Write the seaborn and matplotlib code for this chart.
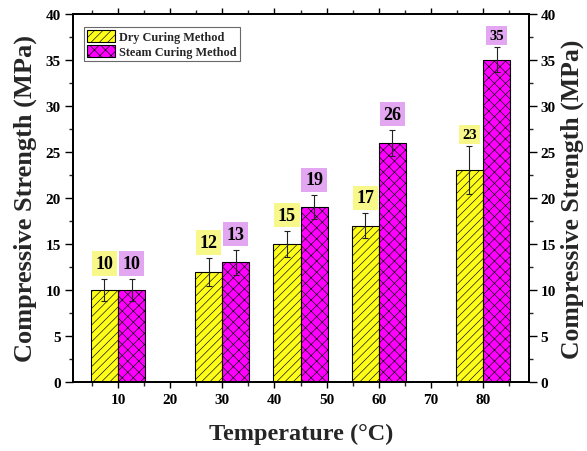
import numpy as np
import pandas as pd
import matplotlib
matplotlib.use('Agg')
import matplotlib.pyplot as plt
import matplotlib.patches as mpatches
from matplotlib.ticker import MultipleLocator
import seaborn as sns

# ---------------- data ----------------
temperatures = [10, 30, 45, 60, 80]
methods = ['Dry Curing Method', 'Steam Curing Method']
dry_strength = [10, 12, 15, 17, 23]
steam_strength = [10, 13, 19, 26, 35]
dry_error = [1.2, 1.5, 1.45, 1.35, 2.6]
steam_error = [1.2, 1.4, 1.3, 1.4, 1.35]
x_ticks = [10, 20, 30, 40, 50, 60, 70, 80]
y_ticks = [0, 5, 10, 15, 20, 25, 30, 35, 40]

# ---------------- style ----------------
sns.set_style('ticks')
plt.rcParams['font.family'] = ['Liberation Serif', 'DejaVu Serif']
plt.rcParams['font.weight'] = 'bold'
plt.rcParams['hatch.linewidth'] = 0.45

dry_color = '#FFFF1A'
steam_color = '#FF00FF'
dry_box = '#F8F88A'
steam_box = '#E3A6F0'

df = pd.DataFrame({
    'Temperature': temperatures * 2,
    'Method': [methods[0]] * len(temperatures) + [methods[1]] * len(temperatures),
    'Strength': dry_strength + steam_strength,
})

fig, ax = plt.subplots(figsize=(5.87, 4.52), dpi=100)
fig.subplots_adjust(left=0.1238, right=0.901, bottom=0.152, top=0.9675)

sns.barplot(data=df, x='Temperature', y='Strength', hue='Method',
            hue_order=methods, palette=[dry_color, steam_color], saturation=1,
            native_scale=True, width=0.6933, errorbar=None,
            edgecolor='black', linewidth=0.8, legend=False, ax=ax)

hatches = ['////', 'xxx']
errors = [dry_error, steam_error]
values = [dry_strength, steam_strength]
box_colors = [dry_box, steam_box]
label_sizes = [13, 13, 13, 13, 10.5]

for cont, hatch, errs, vals, bc in zip(ax.containers, hatches, errors, values, box_colors):
    for bar, e, v, fs in zip(cont, errs, vals, label_sizes):
        bar.set_hatch(hatch)
        cx = bar.get_x() + bar.get_width() / 2
        h = bar.get_height()
        ax.errorbar(cx, h, yerr=e, fmt='none', ecolor='#222222',
                    elinewidth=0.8, capsize=2.5, capthick=0.8, zorder=5)
        off = 7 if fs > 12 else 5
        ax.annotate(f'{v}', xy=(cx, h + e), xytext=(0, off),
                    textcoords='offset pixels', ha='center', va='bottom',
                    fontsize=fs, fontweight='bold', color='black',
                    bbox=dict(boxstyle='square,pad=0.2', fc=bc, ec='none'),
                    zorder=6)

# ---------------- axes ----------------
ax.set_xlim(1.3, 88.8)
ax.set_ylim(0, 40)
ax.set_xticks(x_ticks)
ax.set_xticklabels([str(t) for t in x_ticks])
ax.xaxis.set_minor_locator(MultipleLocator(5))
ax.set_yticks(y_ticks)
ax.yaxis.set_minor_locator(MultipleLocator(2.5))

for sp in ax.spines.values():
    sp.set_linewidth(1.3)
    sp.set_color('black')

ax.tick_params(axis='x', which='major', direction='out', length=4, width=1,
               top=True, labelsize=11, pad=3.5, colors='black')
ax.tick_params(axis='x', which='minor', direction='out', length=3, width=1,
               top=True, bottom=True)
ax.tick_params(axis='y', which='major', direction='out', length=6, width=1,
               labelsize=11, pad=2.5, colors='black')
ax.tick_params(axis='y', which='minor', direction='out', length=3, width=1)

ax.set_xlabel('Temperature (°C)', fontsize=17.5, fontweight='bold', labelpad=12)
ax.set_ylabel('Compressive Strength (MPa)', fontsize=19, fontweight='bold', labelpad=6)

ax2 = ax.twinx()
ax2.set_ylim(0, 40)
ax2.set_yticks(y_ticks)
ax2.yaxis.set_minor_locator(MultipleLocator(2.5))
ax2.tick_params(axis='y', which='major', direction='out', length=6, width=1,
                labelsize=11, pad=2.5, colors='black')
ax2.tick_params(axis='y', which='minor', direction='out', length=3, width=1)
for sp in ax2.spines.values():
    sp.set_linewidth(1.3)
    sp.set_color('black')
ax2.set_ylabel('Compressive Strength (MPa)', fontsize=18.5, fontweight='bold', labelpad=3)

handles = [mpatches.Patch(facecolor=dry_color, edgecolor='black', hatch='////', linewidth=0.8),
           mpatches.Patch(facecolor=steam_color, edgecolor='black', hatch='xxx', linewidth=0.8)]
leg = ax.legend(handles=handles, labels=methods, loc='upper left',
                bbox_to_anchor=(0.025, 0.963), borderaxespad=0,
                prop={'family': 'Liberation Serif', 'weight': 'bold', 'size': 8.8},
                frameon=True, fancybox=False, edgecolor='#444444',
                handlelength=2.3, handleheight=1.1, labelspacing=0.15,
                borderpad=0.25, handletextpad=0.3)
leg.get_frame().set_linewidth(0.8)

fig.savefig('out.png', dpi=100)
